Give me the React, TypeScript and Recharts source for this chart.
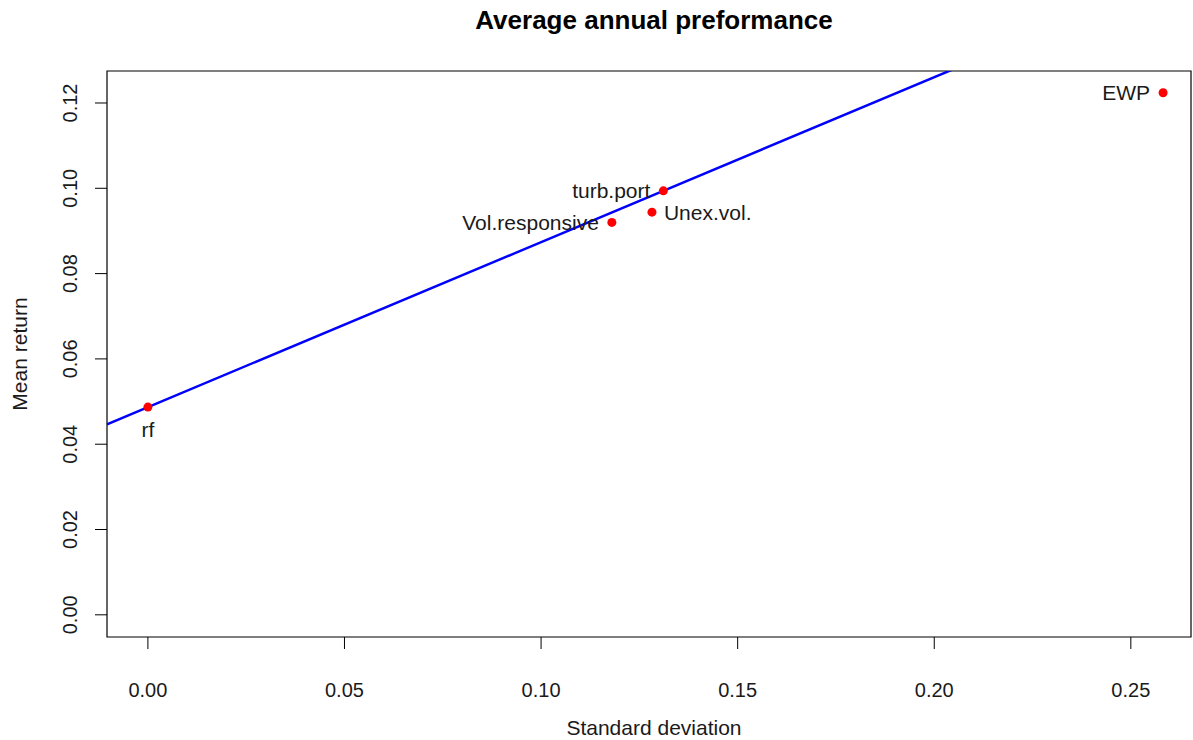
import React from 'react';
import {
  ComposedChart, XAxis, YAxis, Scatter, Line, ReferenceArea,
} from 'recharts';

// ---- data ----
const portfolioNames = ['rf', 'Vol.responsive', 'Unex.vol.', 'turb.port', 'EWP'];
const stdDevs = [0.0, 0.118, 0.1282, 0.1311, 0.2582];
const meanReturns = [0.0487, 0.0920, 0.0944, 0.0994, 0.1224];
const labelSides = ['below', 'left', 'right', 'left', 'left'];

const xTicks = [0, 0.05, 0.1, 0.15, 0.2, 0.25];
const yTicks = [0, 0.02, 0.04, 0.06, 0.08, 0.1, 0.12];

const X_MIN = -0.0104;
const X_MAX = 0.2653;
const Y_MIN = -0.0052;
const Y_MAX = 0.1275;

// capital market line: from rf through the tangency portfolio (turb.port)
const cmlIntercept = meanReturns[0];
const cmlSlope = (meanReturns[3] - meanReturns[0]) / (stdDevs[3] - stdDevs[0]);
const lineXs = [X_MIN, X_MAX];

const points = portfolioNames.map((name, i) => ({
  name, x: stdDevs[i], y: meanReturns[i], side: labelSides[i],
}));
const lineData = lineXs.map((x) => ({ x, y: cmlIntercept + cmlSlope * x }));

const FONT = "'Liberation Sans', Arial, sans-serif";
const W = 1193;
const H = 740;
const PLOT_LEFT = 112;
const PLOT_W = 1084;

const PointShape = (props: any) => {
  const { cx, cy, payload } = props;
  if (cx == null || cy == null) return null;
  let tx = cx, ty = cy, anchor: any = 'middle';
  if (payload.side === 'left') { tx = cx - 13; anchor = 'end'; }
  else if (payload.side === 'right') { tx = cx + 12; anchor = 'start'; }
  else if (payload.side === 'below') { ty = cy + 22; }
  return (
    <g>
      <circle cx={cx} cy={cy} r={4.5} fill="#FF0000" />
      <text x={tx} y={ty} textAnchor={anchor} dominantBaseline="central"
        fontFamily={FONT} fontSize={21} fill="#1a1a1a">{payload.name}</text>
    </g>
  );
};

const XTick = (props: any) => {
  const { x, payload } = props;
  return (
    <text x={x} y={690} textAnchor="middle" dominantBaseline="central"
      fontFamily={FONT} fontSize={20} fill="#1a1a1a">{payload.value.toFixed(2)}</text>
  );
};

const YTick = (props: any) => {
  const { y, payload } = props;
  const x = 70;
  return (
    <text x={x} y={y} textAnchor="middle" dominantBaseline="central"
      transform={`rotate(-90, ${x}, ${y})`}
      fontFamily={FONT} fontSize={20} fill="#1a1a1a">{payload.value.toFixed(2)}</text>
  );
};

export default function App() {
  return (
    <div style={{ position: 'absolute', left: 0, top: 0, width: W, height: H, background: '#fff' }}>
      <ComposedChart width={W} height={H} margin={{ top: 71, right: 2, bottom: 0, left: 0 }}>
        <XAxis type="number" dataKey="x" domain={[X_MIN, X_MAX]} ticks={xTicks}
          allowDataOverflow axisLine={false} tickLine={{ stroke: '#000' }} tickSize={12}
          height={103} tick={<XTick />} interval={0} />
        <YAxis type="number" dataKey="y" domain={[Y_MIN, Y_MAX]} ticks={yTicks}
          allowDataOverflow axisLine={false} tickLine={{ stroke: '#000' }} tickSize={12}
          width={107} tick={<YTick />} interval={0} />
        <ReferenceArea x1={X_MIN} x2={X_MAX} y1={Y_MIN} y2={Y_MAX}
          fill="none" stroke="#000" strokeWidth={1.2} ifOverflow="visible" />
        <Line data={lineData} dataKey="y" type="linear" stroke="#0000FF" strokeWidth={2.5}
          dot={false} activeDot={false} isAnimationActive={false} />
        <Scatter data={points} dataKey="y" shape={<PointShape />} isAnimationActive={false} />
      </ComposedChart>
      <div style={{ position: 'absolute', left: PLOT_LEFT, top: 6, width: PLOT_W, textAlign: 'center',
        fontFamily: FONT, fontWeight: 'bold', fontSize: 26, color: '#000', lineHeight: '28px' }}>
        Average annual preformance
      </div>
      <div style={{ position: 'absolute', left: PLOT_LEFT, top: 716, width: PLOT_W, textAlign: 'center',
        fontFamily: FONT, fontSize: 21, color: '#1a1a1a', lineHeight: '24px' }}>
        Standard deviation
      </div>
      <div style={{ position: 'absolute', left: 20 - 150, top: 354 - 12, width: 300, textAlign: 'center',
        fontFamily: FONT, fontSize: 21, color: '#1a1a1a', lineHeight: '24px',
        transform: 'rotate(-90deg)', transformOrigin: '150px 12px' }}>
        Mean return
      </div>
    </div>
  );
}
